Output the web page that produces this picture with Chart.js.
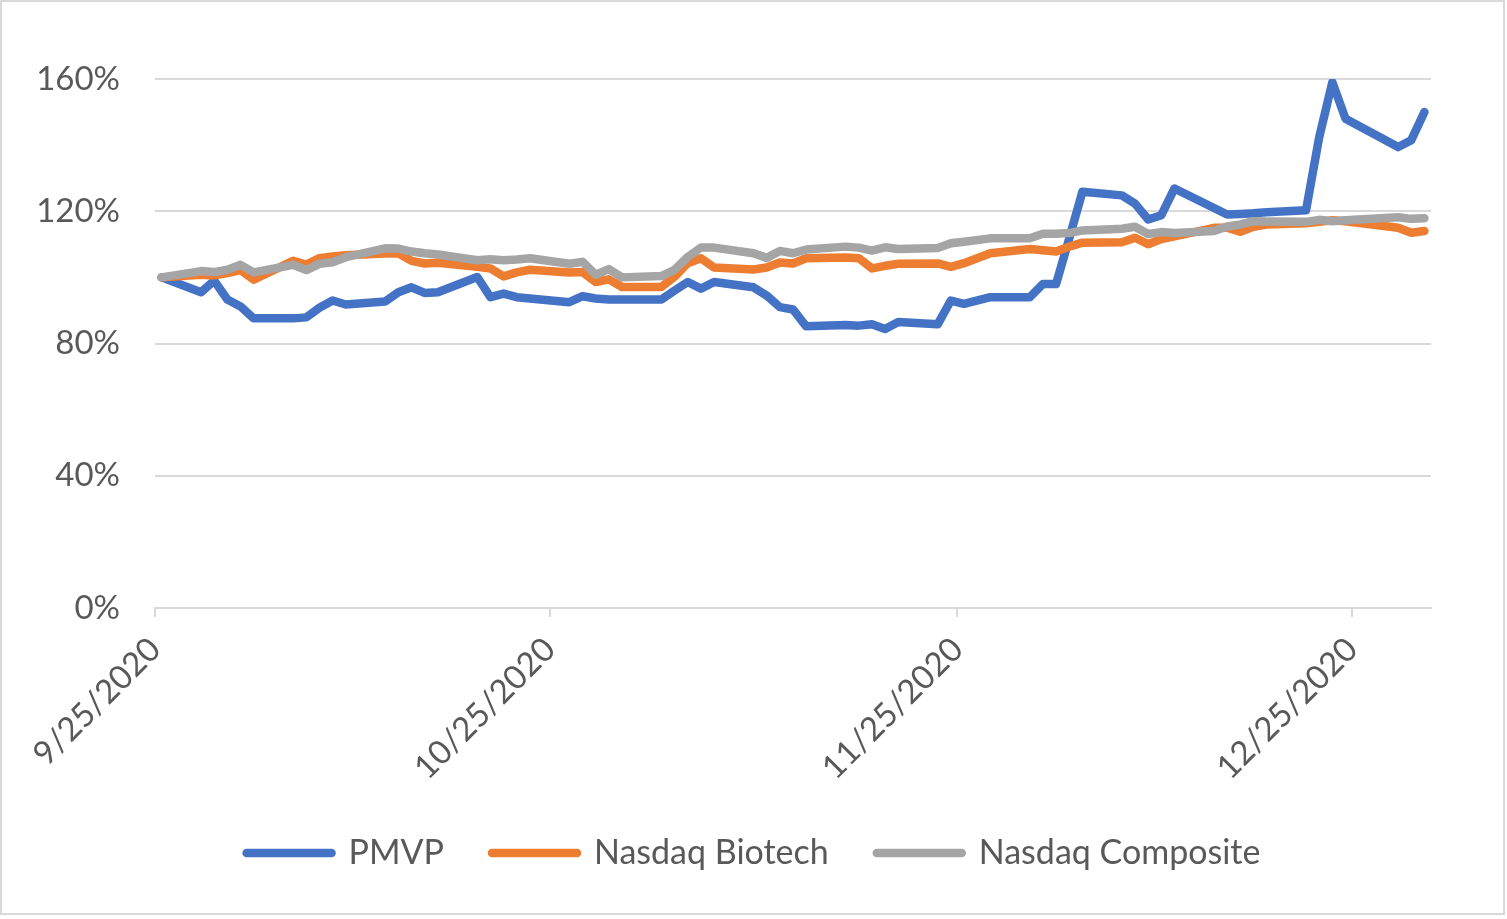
<!DOCTYPE html>
<html>
<head>
<meta charset="utf-8">
<script src="https://cdn.jsdelivr.net/npm/chart.js@4.4.1/dist/chart.umd.min.js"></script>
<style>
  html, body { margin: 0; padding: 0; background: #fff; }
  #wrap { position: relative; width: 1507px; height: 919px; }
  #frame { position: absolute; left: 0; top: 0; width: 1505px; height: 915px; box-sizing: border-box; border: 2px solid #d9d9d9; pointer-events: none; }
</style>
</head>
<body>
<div id="wrap">
  <canvas id="myChart"></canvas>
  <div id="frame"></div>
</div>
<script>
// trading days, values are % of the 9/25/2020 close
const dates = [
  '9/25/2020', '9/28/2020', '9/29/2020', '9/30/2020',
  '10/1/2020', '10/2/2020', '10/5/2020', '10/6/2020', '10/7/2020', '10/8/2020', '10/9/2020',
  '10/12/2020', '10/13/2020', '10/14/2020', '10/15/2020', '10/16/2020',
  '10/19/2020', '10/20/2020', '10/21/2020', '10/22/2020', '10/23/2020',
  '10/26/2020', '10/27/2020', '10/28/2020', '10/29/2020', '10/30/2020',
  '11/2/2020', '11/3/2020', '11/4/2020', '11/5/2020', '11/6/2020',
  '11/9/2020', '11/10/2020', '11/11/2020', '11/12/2020', '11/13/2020',
  '11/16/2020', '11/17/2020', '11/18/2020', '11/19/2020', '11/20/2020',
  '11/23/2020', '11/24/2020', '11/25/2020', '11/27/2020',
  '11/30/2020', '12/1/2020', '12/2/2020', '12/3/2020', '12/4/2020',
  '12/7/2020', '12/8/2020', '12/9/2020', '12/10/2020', '12/11/2020',
  '12/14/2020', '12/15/2020', '12/16/2020', '12/17/2020', '12/18/2020',
  '12/21/2020', '12/22/2020', '12/23/2020', '12/24/2020',
  '12/28/2020', '12/29/2020', '12/30/2020'
];

const pmvp = [
  100, 95.5, 99.0, 93.3,
  91.2, 87.6, 87.6, 87.9, 90.8, 93.0, 91.8,
  92.7, 95.5, 97.0, 95.3, 95.5,
  100.1, 94.0, 95.1, 94.0, 93.6,
  92.5, 94.3, 93.6, 93.3, 93.3,
  93.3, 96.0, 98.6, 96.6, 98.6,
  97.0, 94.5, 91.0, 90.3, 85.2,
  85.6, 85.4, 85.8, 84.4, 86.5,
  85.8, 93.0, 92.0, 94.0,
  94.0, 98.0, 98.0, 111.8, 125.9,
  124.8, 122.3, 117.5, 118.8, 126.9,
  121.0, 119.0, 119.2, 119.4, 119.7,
  120.3, 142.4, 159.0, 148.0,
  139.4, 141.5, 150.0
];

const biotech = [
  100, 100.8, 100.6, 101.3,
  102.2, 99.3, 105.0, 103.9, 105.8, 106.3, 106.7,
  107.2, 107.3, 105.0, 104.2, 104.4,
  103.2, 102.7, 100.3, 101.5, 102.3,
  101.5, 101.6, 98.6, 99.4, 97.1,
  97.1, 100.2, 104.3, 105.8, 103.0,
  102.4, 103.0, 104.5, 104.2, 105.8,
  106.0, 105.8, 102.7, 103.5, 104.1,
  104.2, 103.2, 104.3, 107.3,
  108.6, 108.2, 107.8, 109.3, 110.5,
  110.6, 112.0, 110.0, 111.6, 112.4,
  115.0, 115.0, 113.8, 115.3, 116.0,
  116.4, 116.8, 117.3, 117.0,
  115.0, 113.5, 114.0
];

const composite = [
  100, 101.9, 101.6, 102.3,
  103.8, 101.5, 103.8, 102.2, 104.1, 104.6, 106.1,
  108.8, 108.7, 107.8, 107.3, 106.9,
  105.2, 105.5, 105.2, 105.4, 105.8,
  104.1, 104.7, 100.8, 102.5, 100.0,
  100.4, 102.3, 106.2, 109.0, 109.0,
  107.3, 105.9, 108.0, 107.3, 108.4,
  109.3, 109.0, 108.1, 109.1, 108.6,
  108.9, 110.3, 110.8, 111.8,
  111.8, 113.2, 113.2, 113.4, 114.2,
  114.7, 115.3, 113.1, 113.7, 113.4,
  114.0, 115.4, 116.0, 117.0, 116.9,
  116.8, 117.4, 117.0, 117.3,
  118.2, 117.7, 117.9
];

const tickLabels = ['9/25/2020', '10/25/2020', '11/25/2020', '12/25/2020'];

const FONT = 'Lato';
const TEXT = '#595959';
const GRID = '#d9d9d9';

// day number from the first date (excel date axis, one slot per day)
function dayOf(s) {
  const [m, d, y] = s.split('/').map(Number);
  return Math.round((Date.UTC(y, m - 1, d) - Date.UTC(2020, 8, 25)) / 86400000);
}
const lastDay = dayOf(dates[dates.length - 1]);

function series(vals) {
  return dates.map((s, i) => ({ x: dayOf(s), y: vals[i] }));
}

function lineSet(label, vals, color, order) {
  return {
    label: label,
    data: series(vals),
    borderColor: color,
    backgroundColor: color,
    borderWidth: 8.5,
    borderJoinStyle: 'round',
    borderCapStyle: 'round',
    pointRadius: 0,
    pointHoverRadius: 0,
    tension: 0,
    order: order
  };
}

const ctx = document.getElementById('myChart');

new Chart(ctx, {
  type: 'line',
  data: {
    datasets: [
      lineSet('PMVP', pmvp, '#4472C4', 2),
      lineSet('Nasdaq Biotech', biotech, '#ED7D31', 1),
      lineSet('Nasdaq Composite', composite, '#A5A5A5', 0)
    ]
  },
  options: {
    responsive: true,
    maintainAspectRatio: false,
    animation: false,
    layout: { padding: { top: 79, left: 0, right: 0, bottom: 39 } },
    scales: {
      x: {
        type: 'linear',
        min: -0.5,
        max: lastDay + 0.5,
        afterBuildTicks: axis => {
          axis.ticks = tickLabels.map(l => ({ value: dayOf(l) - 0.5 }));
        },
        afterFit: axis => { axis.height = 180; },
        ticks: {
          autoSkip: false,
          minRotation: 45,
          maxRotation: 45,
          padding: 13,
          color: TEXT,
          font: { family: FONT, size: 33 },
          callback: (v, i) => tickLabels[i]
        },
        grid: { drawOnChartArea: false, color: GRID, lineWidth: 2, tickLength: 9 },
        border: { color: GRID, width: 2 }
      },
      y: {
        min: 0,
        max: 160,
        afterFit: axis => { axis.width = 155; },
        ticks: {
          stepSize: 40,
          padding: 35,
          color: TEXT,
          font: { family: FONT, size: 33 },
          callback: v => v + '%'
        },
        grid: { color: GRID, lineWidth: 2, drawTicks: false },
        border: { display: false }
      },
      y2: {
        position: 'right',
        afterFit: axis => { axis.width = 76; },
        ticks: { display: false },
        grid: { display: false },
        border: { display: false }
      }
    },
    plugins: {
      tooltip: { enabled: false },
      legend: {
        position: 'bottom',
        labels: {
          usePointStyle: true,
          pointStyleWidth: 85,
          padding: 48,
          color: TEXT,
          font: { family: FONT, size: 34 },
          sort: (a, b) => a.datasetIndex - b.datasetIndex,
          generateLabels: chart =>
            Chart.defaults.plugins.legend.labels.generateLabels(chart).map(l =>
              Object.assign(l, { pointStyle: 'line', lineCap: 'round', lineWidth: 8.5 }))
        }
      }
    }
  }
});
</script>
</body>
</html>
